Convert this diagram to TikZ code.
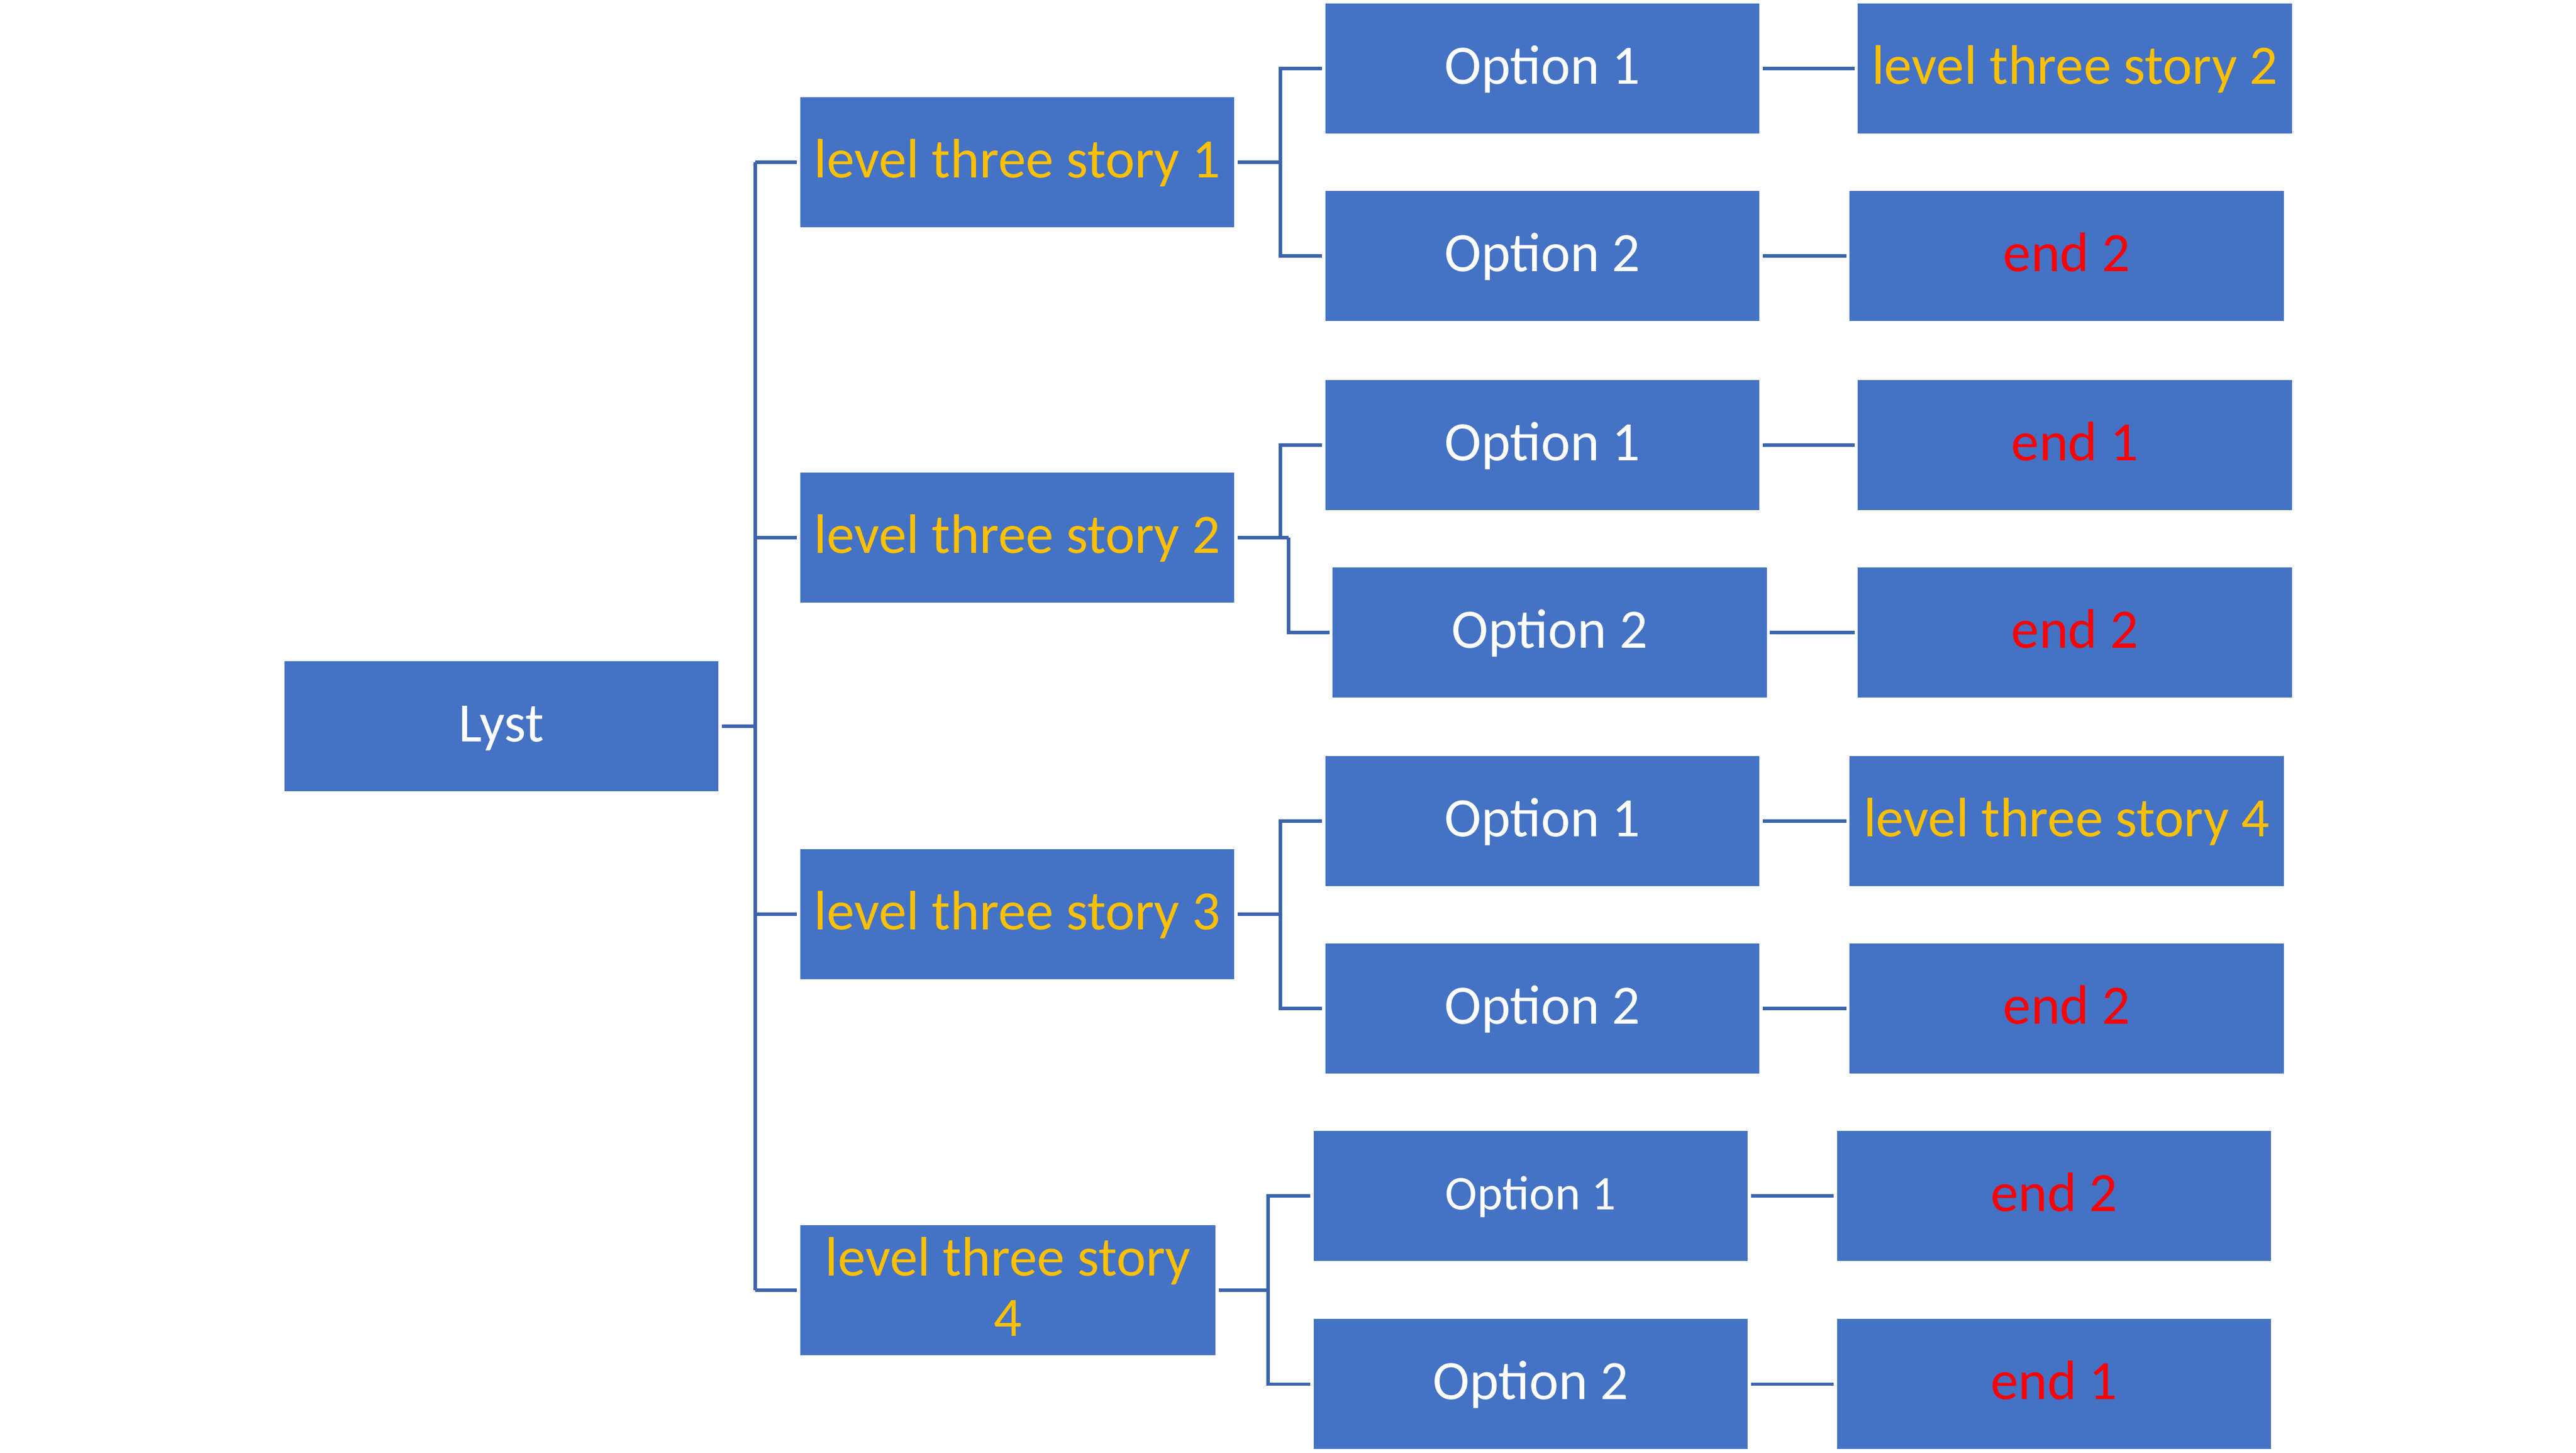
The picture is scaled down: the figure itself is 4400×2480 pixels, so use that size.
\documentclass[tikz,border=0pt]{standalone}
\usepackage{fontspec}
\setmainfont{Carlito}
\definecolor{boxblue}{HTML}{4472C4}
\definecolor{lineblue}{HTML}{3B64AD}
\definecolor{storyyellow}{HTML}{FFC000}
\definecolor{endred}{HTML}{FF0000}
\newcommand\mystrut{\rule[-0.22em]{0pt}{1em}}
\tikzset{
  box/.style={rectangle, fill=boxblue, inner sep=0pt, minimum width=7.41cm, minimum height=2.22cm,
    font=\fontsize{27}{29.3}\selectfont, align=center},
  opt/.style={box, text=white},
  story/.style={box, text=storyyellow},
  ending/.style={box, text=endred},
  conn/.style={draw=lineblue, line width=1.45pt},
  gap/.style={shorten <=0.05cm, shorten >=0.05cm}
}
\begin{document}
\begin{tikzpicture}[x=0.01cm, y=-0.01cm]
\useasboundingbox (0,0) rectangle (4400,2480);
% root
\node[opt] (lyst) at (856.5,1240) {\mystrut Lyst};
% level two
\node[story] (L1) at (1737.5,277) {\mystrut level three story 1};
\node[story] (L2) at (1737.5,918) {\mystrut level three story 2};
\node[story] (L3) at (1737.5,1561) {\mystrut level three story 3};
\node[story, minimum width=7.09cm] (L4) at (1721.5,2203) {\mystrut level three story\\\mystrut 4};
% options
\node[opt] (O11) at (2634.5,117) {\mystrut Option 1};
\node[opt] (O12) at (2634.5,437) {\mystrut Option 2};
\node[opt] (O21) at (2634.5,760) {\mystrut Option 1};
\node[opt] (O22) at (2647,1080) {\mystrut Option 2};
\node[opt] (O31) at (2634.5,1402) {\mystrut Option 1};
\node[opt] (O32) at (2634.5,1722) {\mystrut Option 2};
\node[opt, font=\fontsize{23.5}{26}\selectfont] (O41) at (2614.5,2042) {\mystrut Option 1};
\node[opt] (O42) at (2614.5,2363) {\mystrut Option 2};
% ends
\node[story] (E11) at (3544,117) {\mystrut level three story 2};
\node[ending] (E12) at (3530,437) {\mystrut end 2};
\node[ending] (E21) at (3544,760) {\mystrut end 1};
\node[ending] (E22) at (3544,1080) {\mystrut end 2};
\node[story] (E31) at (3530,1402) {\mystrut level three story 4};
\node[ending] (E32) at (3530,1722) {\mystrut end 2};
\node[ending] (E41) at (3508.5,2042) {\mystrut end 2};
\node[ending] (E42) at (3508.5,2363) {\mystrut end 1};
% trunk
\coordinate (tr) at (1290,1240);
\draw[conn, shorten <=0.05cm] (lyst.east) -- (tr);
\draw[conn] (tr |- L1) -- (tr |- L4);
\foreach \n in {L1,L2,L3,L4}{
  \draw[conn, shorten >=0.05cm] (tr |- \n) -- (\n.west);
}
% brackets
\coordinate (b1) at (2187,277);
\coordinate (b2a) at (2187,918);
\coordinate (b2b) at (2201,918);
\coordinate (b3) at (2187,1561);
\coordinate (b4) at (2166,2203);
\draw[conn, shorten <=0.05cm] (L1.east) -- (b1);
\draw[conn, gap] (O11.west) -| (b1) |- (O12.west);
\draw[conn, shorten <=0.05cm] (L2.east) -- (b2b);
\draw[conn, shorten <=0.05cm] (O21.west) -| (b2a);
\draw[conn, shorten >=0.05cm] (b2b) |- (O22.west);
\draw[conn, shorten <=0.05cm] (L3.east) -- (b3);
\draw[conn, gap] (O31.west) -| (b3) |- (O32.west);
\draw[conn, shorten <=0.05cm] (L4.east) -- (b4);
\draw[conn, gap] (O41.west) -| (b4) |- (O42.west);
% option to end
\foreach \a/\b in {O11/E11,O12/E12,O21/E21,O22/E22,O31/E31,O32/E32,O41/E41,O42/E42}{
  \draw[conn, gap] (\a.east) -- (\b.west);
}
\end{tikzpicture}
\end{document}
